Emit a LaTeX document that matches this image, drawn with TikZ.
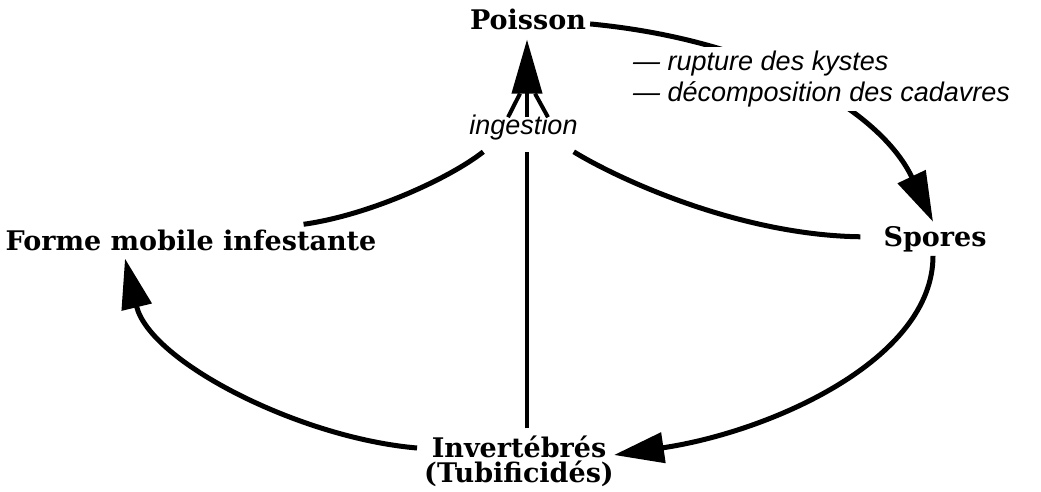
\documentclass[tikz,border=0pt]{standalone}
\usepackage{fontspec}
\newfontfamily\labfont{DejaVu Serif}
\newfontfamily\itfont{Liberation Sans}
\usetikzlibrary{arrows.meta,calc}
\begin{document}
\begin{tikzpicture}[x=1pt,y=-1pt,
  lbl/.style={font=\labfont\bfseries\fontsize{27}{25}\selectfont, inner sep=4pt},
  itl/.style={font=\itfont\itshape\fontsize{27}{31}\selectfont, inner sep=4pt},
  link/.style={line width=5pt},
  straight/.style={line width=4pt},
  tip/.style={-{Triangle[length=50pt,width=30pt]}},
  bigtip/.style={-{Triangle[length=54pt,width=30pt]}}]
\useasboundingbox (0,0) rectangle (1041,492);

\node[lbl,anchor=base] (P) at (528,30) {Poisson};
\node[lbl,anchor=base] (F) at (191,250) {Forme mobile infestante};
\node[lbl,anchor=base] (S) at (935,246) {Spores};
\node[lbl,align=center] (I) at (519,461) {Invertébrés\\(Tubificidés)};
\node[itl,anchor=base] (ing) at (523.5,135) {ingestion};

% Poisson -> Spores
\draw[link,tip] ([yshift=-4pt]P.east) .. controls (760,40) and (880,110) .. ($(S.north)+(-2,0)$);
\node[itl,align=left,anchor=west,fill=white] (note) at (629,79) {— rupture des kystes\\— décomposition des cadavres};

% Spores -> Invertebres
\draw[link,tip] ($(S.south)+(-2,0)$) .. controls (933,360) and (770,432) .. ($(I.east)+(-4,-6)$);
% Invertebres -> Forme mobile
\draw[link,tip] ($(I.west)+(-3,-13)$) .. controls (300,438) and (150,362) .. ($(F.south)+(-66,4)$);
% Forme mobile -> ingestion
\draw[link] ($(F.north east)+(-77,-1)$) .. controls (370,215) and (450,178) .. ($(ing.south west)+(18,7)$);
% Spores -> ingestion
\draw[link] ($(ing.south east)+(-8,7)$) .. controls (620,180) and (740,235) .. ($(S.west)+(-19,-2)$);
% Invertebres -> ingestion
\draw[straight] ($(I.north)+(8,-3)$) -- ($(ing.south)+(3.5,7)$);
% ingestion -> Poisson
\draw[straight,bigtip] ($(ing.north)+(3.5,6)$) -- ($(P.south)+(-1,5)$);
\draw[straight] ($(ing.north)+(-15.5,6)$) -- ($(P.south)+(-8,59)$);
\draw[straight] ($(ing.north)+(24.5,6)$) -- ($(P.south)+(7,59)$);
\end{tikzpicture}
\end{document}
